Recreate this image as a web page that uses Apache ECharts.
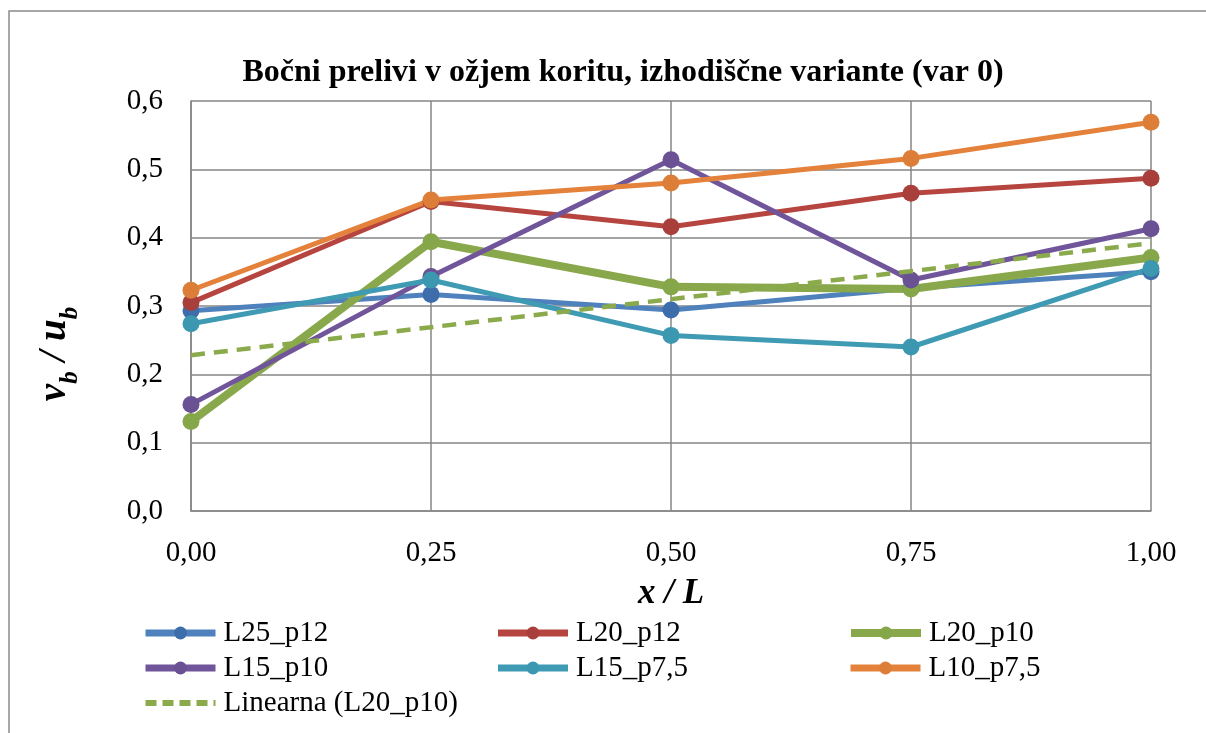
<!DOCTYPE html>
<html>
<head>
<meta charset="utf-8">
<script src="https://cdn.jsdelivr.net/npm/echarts@6/dist/echarts.min.js"></script>
<style>
  html, body { margin: 0; padding: 0; background: #fff; }
  #chart { width: 1206px; height: 733px; }
</style>
</head>
<body>
<div id="chart"></div>
<script>
// relative position along the overflow (x / L)
const xPos = [0, 0.25, 0.5, 0.75, 1];

const L25_p12 = [0.293, 0.317, 0.294, 0.326, 0.350];
const L20_p12 = [0.305, 0.453, 0.416, 0.465, 0.487];
const L20_p10 = [0.131, 0.394, 0.328, 0.325, 0.371];
const L15_p10 = [0.156, 0.343, 0.514, 0.338, 0.413];
const L15_p7_5 = [0.274, 0.338, 0.257, 0.240, 0.355];
const L10_p7_5 = [0.323, 0.455, 0.480, 0.516, 0.569];

// Excel linear trend line of L20_p10, read at both ends
const trendX = [0, 1];
const trendY = [0.228, 0.392];

const serif = '"Times New Roman", "Liberation Serif", serif';

const pairs = (xs, ys) => ys.map((v, i) => [xs[i], v]);

function lineSeries(name, values, color, markColor, width, size) {
  return {
    name: name,
    type: 'line',
    data: pairs(xPos, values),
    symbol: 'circle',
    symbolSize: size,
    lineStyle: { color: color, width: width },
    itemStyle: { color: markColor },
    emphasis: { disabled: true },
    z: 3
  };
}

function legendItem(name, width) {
  return { name: name, lineStyle: { width: width } };
}

const chart = echarts.init(document.getElementById('chart'));

const option = {
  backgroundColor: '#fff',
  animation: false,
  title: {
    text: 'Bočni prelivi v ožjem koritu, izhodiščne variante (var 0)',
    left: 618,
    top: 52,
    textAlign: 'center',
    textStyle: {
      fontFamily: serif,
      fontWeight: 'bold',
      fontSize: 32,
      color: '#000'
    }
  },
  graphic: [{
    type: 'rect',
    shape: { x: 9, y: 11, width: 1300, height: 800 },
    style: { fill: 'none', stroke: '#8a8a8a', lineWidth: 1.5 },
    silent: true
  }],
  legend: {
    left: 137,
    top: 613,
    width: 1070,
    itemWidth: 70,
    itemHeight: 16,
    itemGap: 5,
    textStyle: {
      fontFamily: serif,
      fontSize: 29,
      color: '#000',
      width: 266,
      lineHeight: 30,
      padding: [0, 0, 0, 3]
    },
    data: [
      legendItem('L25_p12', 7),
      legendItem('L20_p12', 7),
      legendItem('L20_p10', 8),
      legendItem('L15_p10', 7),
      legendItem('L15_p7,5', 7),
      legendItem('L10_p7,5', 7),
      {
        name: 'Linearna (L20_p10)',
        itemStyle: { opacity: 0 },
        lineStyle: { width: 6, type: [11, 6], opacity: 1 }
      }
    ]
  },
  grid: {
    left: 191,
    right: 55,
    top: 101,
    bottom: 222
  },
  xAxis: {
    type: 'value',
    min: 0,
    max: 1,
    interval: 0.25,
    name: 'x / L',
    nameLocation: 'middle',
    nameGap: 65,
    nameTextStyle: {
      fontFamily: serif,
      fontWeight: 'bold',
      fontStyle: 'italic',
      fontSize: 35,
      color: '#000'
    },
    axisLine: { show: true, lineStyle: { color: '#868686', width: 1.5 } },
    axisTick: { show: false },
    splitLine: { show: true, lineStyle: { color: '#868686', width: 1.5 } },
    axisLabel: {
      fontFamily: serif,
      fontSize: 29,
      color: '#000',
      margin: 28,
      formatter: v => v.toFixed(2).replace('.', ',')
    }
  },
  yAxis: {
    type: 'value',
    min: 0,
    max: 0.6,
    interval: 0.1,
    name: '{v|v}{s|b}{v| / }{v|u}{s|b}',
    nameLocation: 'middle',
    nameRotate: 90,
    nameGap: 108,
    nameTextStyle: {
      padding: [0, 96, 0, 0],
      rich: {
        v: {
          fontFamily: serif, fontWeight: 'bold', fontStyle: 'italic',
          fontSize: 39, color: '#000', lineHeight: 48, verticalAlign: 'top'
        },
        s: {
          fontFamily: serif, fontWeight: 'bold', fontStyle: 'italic',
          fontSize: 25, color: '#000', lineHeight: 24, verticalAlign: 'bottom'
        }
      }
    },
    axisLine: { show: true, lineStyle: { color: '#868686', width: 1.5 } },
    axisTick: { show: false },
    splitLine: { show: true, lineStyle: { color: '#868686', width: 1.5 } },
    axisLabel: {
      fontFamily: serif,
      fontSize: 29,
      color: '#000',
      margin: 28,
      formatter: v => v.toFixed(1).replace('.', ',')
    }
  },
  series: [
    lineSeries('L25_p12', L25_p12, '#4F81BD', '#3D6DAA', 5, 17),
    lineSeries('L20_p12', L20_p12, '#B6443F', '#A93F3B', 5, 17),
    lineSeries('L20_p10', L20_p10, '#89A84B', '#86A64A', 8, 17),
    lineSeries('L15_p10', L15_p10, '#70559A', '#6A5193', 5, 17),
    lineSeries('L15_p7,5', L15_p7_5, '#3F9AB3', '#3C97B1', 5, 17),
    lineSeries('L10_p7,5', L10_p7_5, '#E4813A', '#DD7E38', 5, 17),
    {
      name: 'Linearna (L20_p10)',
      type: 'line',
      data: pairs(trendX, trendY),
      symbol: 'none',
      lineStyle: { color: '#8AAA4C', width: 4.5, type: [14, 9] },
      itemStyle: { color: '#8AAA4C' },
      emphasis: { disabled: true },
      z: 4
    }
  ]
};

chart.setOption(option);
</script>
</body>
</html>
